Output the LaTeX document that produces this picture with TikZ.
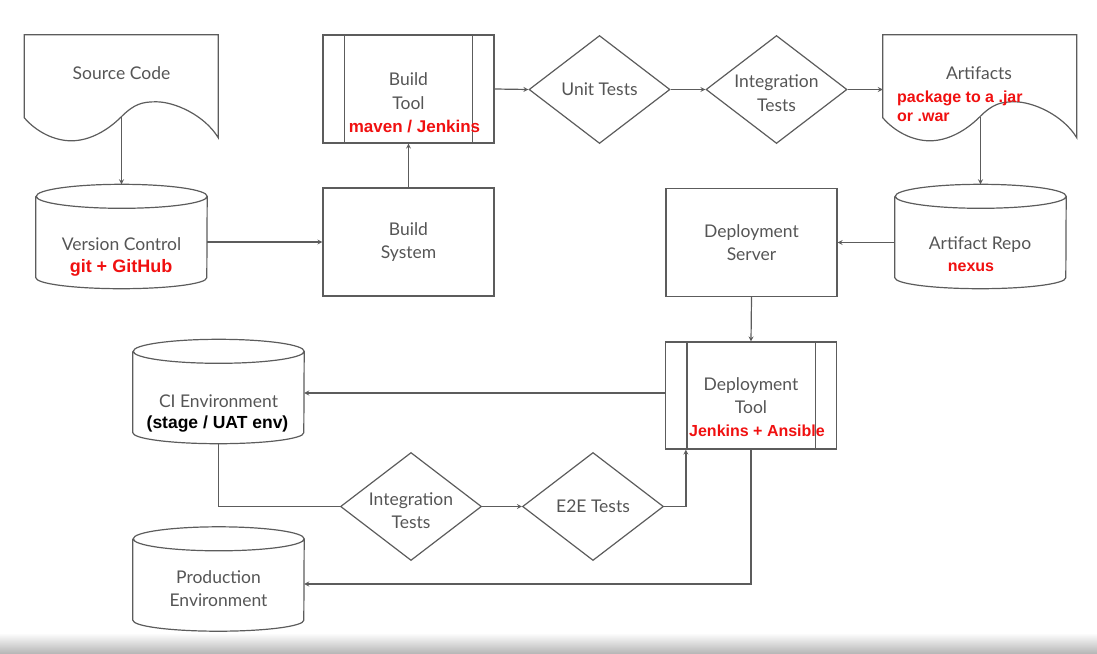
\documentclass[tikz,border=0pt]{standalone}
\usepackage{fontspec}
\setmainfont{Lato}
\newfontfamily\notefont{Liberation Sans}
\usetikzlibrary{shapes.geometric}
\definecolor{mygray}{HTML}{555555}
\definecolor{myline}{HTML}{5C5C5C}
\definecolor{myred}{HTML}{F01010}

\begin{document}
\begin{tikzpicture}[x=1pt, y=-1pt,
	edge/.style={draw=myline, line width=1.2pt},
	txt/.style={text=mygray, font=\fontsize{17.5}{23.5}\selectfont, align=center, inner sep=0pt},
	note/.style={text=myred, font=\notefont\bfseries\fontsize{16}{19}\selectfont, inner sep=0pt},
	box/.style={edge, txt, rectangle, minimum width=171pt, minimum height=108pt},
	dia/.style={edge, txt, diamond, aspect=1.3, minimum width=141pt, minimum height=108pt},
	hold/.style={rectangle, inner sep=0pt, minimum width=171pt, minimum height=104pt},
	sheet/.style={rectangle, inner sep=0pt, minimum width=194pt, minimum height=103pt}]
	\useasboundingbox (0,0) rectangle (1097,653);
	\shade[top color=white, bottom color=black!28] (0,633) rectangle (1097,653);

	\node[sheet] (src) at (121.5,86.5) {};
	\node[sheet] (art) at (980,86.5) {};
	\foreach \d in {src,art} {
		\begin{scope}[shift={(\d.north west)}]
			\draw[edge] (0,83) -- (0,0) -- (194,0) -- (194,103) .. controls (180,80) and (150,67) .. (132,67) .. controls (118,67) and (110,69) .. (97,82) .. controls (84,95) and (66,106) .. (47,106) .. controls (30,106) and (12,97) .. (0,83) -- cycle;
		\end{scope}
	}
	\coordinate (srcwave) at (121.5,117);
	\coordinate (artwave) at (980.5,117);

	\node[hold] (vc) at (121.5,236.5) {};
	\node[hold] (ar) at (980.5,236.5) {};
	\node[hold] (ci) at (218.5,391.5) {};
	\node[hold] (prod) at (218.5,579) {};
	\foreach \c in {vc,ar,ci,prod} {
		\draw[edge] ([yshift=-12pt]\c.north west) -- ([yshift=11pt]\c.south west) arc[start angle=180, end angle=360, x radius=85.5pt, y radius=11pt] -- ([yshift=-12pt]\c.north east) arc[start angle=0, end angle=360, x radius=85.5pt, y radius=12pt];
	}

	\node[box] (bt) at (408.5,89) {};
	\node[box] (bs) at (408.5,242) {Build\\System};
	\node[box] (ds) at (751.5,242.5) {Deployment\\Server};
	\node[box, minimum height=107pt] (dt) at (751,395.5) {};
	\foreach \t in {bt,dt} {
		\draw[edge] ([xshift=22pt]\t.north west) -- ([xshift=22pt]\t.south west) ([xshift=-22pt]\t.north east) -- ([xshift=-22pt]\t.south east);
	}

	\node[dia] (ut) at (599.5,89.5) {Unit Tests};
	\node[dia] (it) at (776.5,89.5) {};
	\node[dia] (it2) at (411,506.5) {};
	\node[dia] (e2e) at (593,506.5) {E2E Tests};

	\node[txt] (itt) at (776.5,93) {Integration\\Tests};
	\node[txt] (it2t) at (411,510.5) {Integration\\Tests};
	\node[txt] (srct) at (121.5,73) {Source Code};
	\node[txt] (vct) at (121.5,244) {Version Control};
	\node[note, font=\notefont\bfseries\fontsize{18}{21}\selectfont] (vcn) at (121,268) {git + GitHub};
	\node[txt] (btt) at (408.5,91) {Build\\Tool};
	\node[note, font=\notefont\bfseries\fontsize{17}{20}\selectfont] (btn) at (414.5,127) {maven / Jenkins};
	\node[txt] (artt) at (979,73) {Artifacts};
	\node[note, align=left, anchor=west] (artn) at (897,106.5) {package to a .jar\\or .war};
	\node[txt] (art t) at (980,245) {Artifact Repo};
	\node[note] (arn) at (971,267) {nexus};
	\node[txt] (dtt) at (751,395.5) {Deployment\\Tool};
	\node[note] (dtn) at (757,431) {Jenkins + Ansible};
	\node[txt] (cit) at (218.5,401) {CI Environment};
	\node[note, text=black, font=\notefont\bfseries\fontsize{17.5}{20}\selectfont] (cin) at (217.5,424) {(stage / UAT env)};
	\node[txt] (prodt) at (218.5,588.5) {Production\\Environment};

	\draw[edge, -stealth] (srcwave) -- (vc.north);
	\draw[edge, -stealth] (vc.east |- bs.west) -- (bs.west);
	\draw[edge, -stealth] (bs.north) -- (bt.south);
	\draw[edge, -stealth] (bt.east) -- (ut.west);
	\draw[edge, -stealth] (ut.east) -- (it.west);
	\draw[edge, -stealth] (it.east) -- (it.east -| art.west);
	\draw[edge, -stealth] (artwave) -- (ar.north);
	\draw[edge, -stealth] (ar.west |- ds.east) -- (ds.east);
	\draw[edge, -stealth] (ds.south) -- (dt.north);
	\draw[edge, -stealth] (dt.west |- 0,393) -- (ci.east |- 0,393);
	\draw[edge] (ci.south) |- (it2.west);
	\draw[edge, -stealth] (it2.east) -- (e2e.west);
	\draw[edge, -stealth] (e2e.east) -| ([xshift=21pt]dt.south west);
	\draw[edge, -stealth] (dt.south) |- ([yshift=-5pt]prod.east);
\end{tikzpicture}
\end{document}
